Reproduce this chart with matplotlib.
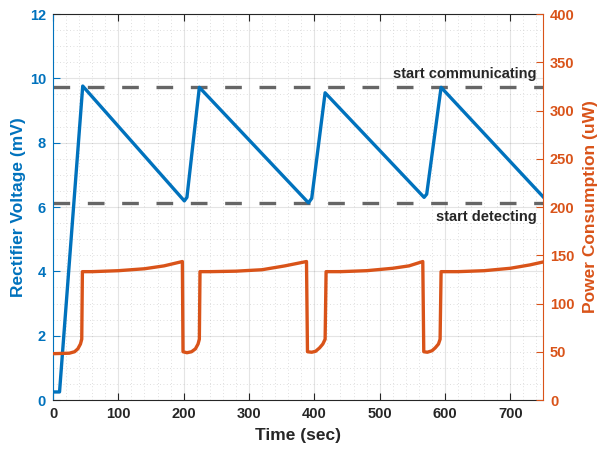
import numpy as np
import matplotlib
matplotlib.use("Agg")
import matplotlib.pyplot as plt
from matplotlib.ticker import MultipleLocator

plt.rcParams['font.family'] = ['Liberation Sans', 'DejaVu Sans']

# rectifier voltage (mV), left axis
volt_t = [0, 10, 45.5, 201, 205, 224, 391, 396, 416.5, 568, 572, 594, 750]
volt_v = [0.25, 0.25, 9.76, 6.19, 6.3, 9.72, 6.13, 6.27, 9.55, 6.3, 6.4, 9.72, 6.32]

# power consumption (uW), right axis
pow_t = [0, 25, 33, 38, 42, 44, 45, 60, 100, 140, 170, 198,
         199, 205, 212, 218, 222, 224, 225, 240, 280, 320, 355, 388,
         389.5, 396, 402, 408, 413, 416.5, 418, 440, 480, 520, 545, 566,
         567.5, 573, 580, 585, 590, 592.5, 594, 620, 660, 700, 730, 750]
pow_p = [48, 48.5, 50, 53, 58, 63, 133, 133, 134, 136, 139, 143.5,
         50, 49, 50, 53, 58, 63, 133, 133, 133.5, 135, 139, 143.5,
         50, 49.5, 50.5, 54, 58, 63, 133, 133, 134, 136.5, 139, 143.5,
         50, 49.5, 51, 54, 58, 63, 133, 133, 134, 136.5, 140, 143]

thresh_comm = 9.72
thresh_det = 6.13

blue = '#0072BD'
orange = '#D95319'
dark = '#262626'

fig = plt.figure(figsize=(6, 4.51), dpi=100)
ax1 = fig.add_axes([53/600, 51/451, 490/600, 386/451])
ax2 = ax1.twinx()

ax1.plot(volt_t, volt_v, color=blue, lw=2.4, zorder=3)
ax1.plot([0, 750], [thresh_comm, thresh_comm], color='#666666', lw=2.4,
         dashes=(5, 5.3), zorder=2)
ax1.plot([0, 750], [thresh_det, thresh_det], color='#666666', lw=2.4,
         dashes=(5, 5.3), zorder=2)
ax1.text(740, 10.0, 'start communicating', ha='right', va='baseline',
         fontsize=10.5, fontweight='bold', color=dark)
ax1.text(740, 5.56, 'start detecting', ha='right', va='baseline',
         fontsize=10.5, fontweight='bold', color=dark)

ax2.plot(pow_t, pow_p, color=orange, lw=2.4)

ax1.set_xlim(0, 750)
ax1.set_ylim(0, 12)
ax2.set_ylim(0, 400)

ax1.xaxis.set_major_locator(MultipleLocator(100))
ax1.xaxis.set_minor_locator(MultipleLocator(20))
ax1.yaxis.set_major_locator(MultipleLocator(2))
ax1.yaxis.set_minor_locator(MultipleLocator(0.5))
ax2.yaxis.set_major_locator(MultipleLocator(50))

ax1.grid(which='major', color='#262626', alpha=0.12, lw=0.8)
ax1.grid(which='minor', color='#262626', alpha=0.2, lw=0.6, ls=(0, (1, 3)))

ax1.tick_params(axis='x', which='major', direction='in', top=True, length=5,
                colors=dark, labelsize=10.5, pad=5)
ax1.tick_params(axis='y', which='major', direction='in', length=5,
                colors=blue, labelsize=10.5, pad=5)
ax1.tick_params(which='minor', length=0)
ax2.tick_params(axis='y', direction='in', length=5, colors=orange,
                labelsize=10.5, pad=5)
for lab in ax1.get_xticklabels() + ax1.get_yticklabels() + ax2.get_yticklabels():
    lab.set_fontweight('bold')

ax1.spines['left'].set_color(blue)
ax1.spines['right'].set_visible(False)
ax1.spines['top'].set_color(dark)
ax1.spines['bottom'].set_color(dark)
ax2.spines['right'].set_color(orange)
ax2.spines['left'].set_visible(False)
ax2.spines['top'].set_visible(False)
ax2.spines['bottom'].set_visible(False)

ax1.set_xlabel('Time (sec)', fontsize=12.5, fontweight='bold', color=dark, labelpad=5)
ax1.set_ylabel('Rectifier Voltage (mV)', fontsize=12.5, fontweight='bold', color=blue, labelpad=3)
ax2.set_ylabel('Power Consumption (uW)', fontsize=12.5, fontweight='bold', color=orange, labelpad=6)

fig.savefig('out.png', dpi=100)
